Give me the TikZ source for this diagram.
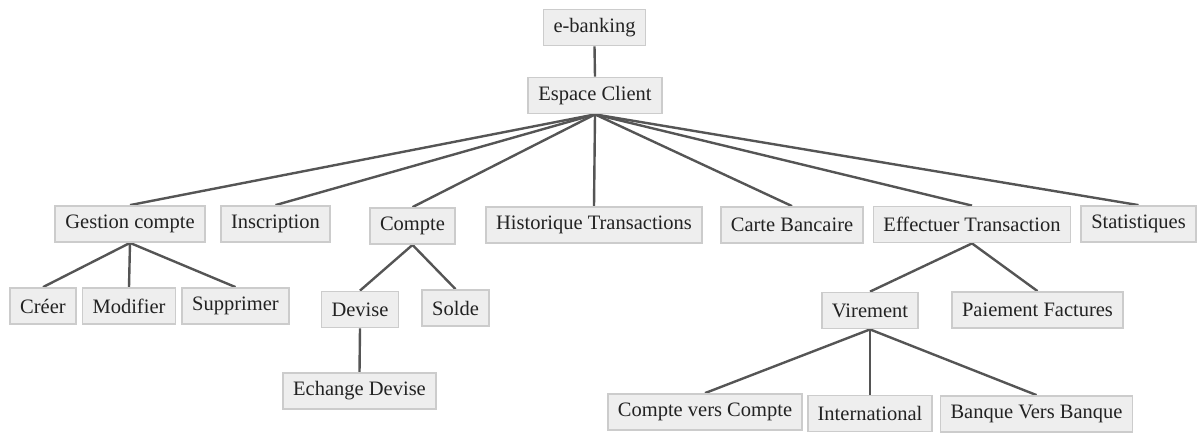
\documentclass[tikz,border=0pt]{standalone}
\usepackage{fontspec}
\setmainfont{Liberation Serif}
\newfontfamily\labelfont{Liberation Serif}
\usetikzlibrary{backgrounds}
\definecolor{boxfill}{HTML}{EEEEEE}
\definecolor{boxline}{HTML}{CCCCCC}
\definecolor{linkline}{HTML}{555555}
\definecolor{textc}{HTML}{222222}
\begin{document}
\begin{tikzpicture}[x=1pt,y=-1pt,
  item/.style={draw=boxline, fill=boxfill, line width=1.8pt, text=textc,
    inner xsep=10pt, inner ysep=0pt, minimum height=36pt,
    font=\labelfont\fontsize{20.5}{24}\selectfont},
  link/.style={draw=linkline, line width=2.4pt}]
\useasboundingbox (0,0) rectangle (1198,432);

% root and its single child
\node[item] (root) at (594.5,27.5) {e-banking};
\node[item] (espace) at (595,95.5) {Espace Client};

% first level under Espace Client
\node[item] (gestion) at (130,224) {Gestion compte};
\node[item] (inscr) at (275.5,224) {Inscription};
\node[item] (compte) at (412.5,226) {Compte};
\node[item] (histo) at (594,225) {Historique Transactions};
\node[item] (carte) at (792,225) {Carte Bancaire};
\node[item] (effect) at (972,224.5) {Effectuer Transaction};
\node[item] (stats) at (1138.5,224) {Statistiques};

% account management
\node[item] (creer) at (43,306) {Créer};
\node[item] (modif) at (129,306) {Modifier};
\node[item] (suppr) at (235.5,306) {Supprimer};

% account
\node[item] (devise) at (360,309.5) {Devise};
\node[item] (solde) at (455.5,308) {Solde};
\node[item] (echange) at (359.5,391) {Echange Devise};

% transactions
\node[item] (virement) at (870,310.5) {Virement};
\node[item] (paiement) at (1037.5,310) {Paiement Factures};
\node[item] (cvc) at (705,412) {Compte vers Compte};
\node[item] (inter) at (870,413.5) {International};
\node[item] (bvb) at (1036.5,414) {Banque Vers Banque};

% connectors, bottom centre of parent to top centre of child
\begin{scope}[on background layer]
\foreach \p/\c in {root/espace, espace/gestion, espace/inscr, espace/compte,
  espace/histo, espace/carte, espace/effect, espace/stats,
  gestion/creer, gestion/modif, gestion/suppr,
  compte/devise, compte/solde, devise/echange,
  effect/virement, effect/paiement,
  virement/cvc, virement/inter, virement/bvb}
  \draw[link] (\p.south) -- (\c.north);
\end{scope}
\end{tikzpicture}
\end{document}
